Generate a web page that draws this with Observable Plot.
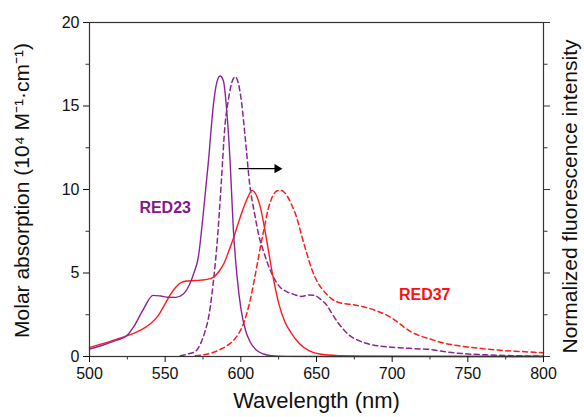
<!DOCTYPE html>
<html><head><meta charset="utf-8">
<script src="https://cdn.jsdelivr.net/npm/d3@7"></script>
<script src="https://cdn.jsdelivr.net/npm/@observablehq/plot@0.6"></script>
<style>body{margin:0;background:#fff}</style>
</head><body><div id="chart"></div>
<script>
// RED23 absorption (purple solid)
const red23AbsNm  = [500, 510, 518, 524, 530, 536, 542, 547, 552, 557, 562, 566, 569, 572, 575, 578.6, 581.9, 584.1, 586.3, 588.5, 590.7, 592.9, 595, 597.5, 600, 603, 606, 610, 615, 620, 630, 700, 800];
const red23AbsVal = [0.45, 0.72, 0.98, 1.2, 1.9, 2.9, 3.66, 3.62, 3.55, 3.54, 3.74, 4.3, 5.0, 6.0, 8.4, 11.7, 15.1, 16.4, 16.8, 16.5, 14.7, 11.7, 7.7, 4.8, 2.9, 1.6, 0.9, 0.4, 0.15, 0.05, 0.01, 0, 0];
// RED37 absorption (red solid)
const red37AbsNm  = [500, 510, 520, 525, 532, 540, 545, 549, 553, 557, 560, 564, 570, 577, 582, 586, 589, 592, 595, 598, 602, 605, 607.3, 610, 613, 617, 621, 625, 629, 633, 639, 645, 652, 665, 680, 800];
const red37AbsVal = [0.55, 0.8, 1.1, 1.25, 1.5, 1.95, 2.4, 3.0, 3.65, 4.15, 4.4, 4.52, 4.55, 4.6, 4.75, 5.15, 5.6, 6.3, 7.05, 7.9, 8.95, 9.6, 9.95, 9.7, 8.9, 7.0, 4.9, 3.2, 2.1, 1.45, 0.75, 0.35, 0.15, 0.05, 0.02, 0];
// RED23 emission (purple dashed), normalized
const red23EmNm  = [560, 565, 570, 573, 576, 579, 582, 584.5, 587, 589.5, 592, 594, 596.3, 598.5, 600.5, 603, 606, 609, 612, 615, 618, 621, 626, 630, 635, 640, 645, 649, 653, 657, 660, 664, 668, 672, 678, 684, 692, 702, 715, 725, 738, 750, 762, 780, 800];
const red23EmVal = [0.05, 0.15, 0.3, 0.7, 1.4, 2.5, 4.6, 7.0, 10.3, 13.8, 15.5, 16.4, 16.75, 16.3, 15.2, 13.0, 10.2, 8.6, 7.2, 6.3, 5.5, 4.85, 4.15, 3.9, 3.72, 3.6, 3.68, 3.65, 3.4, 3.05, 2.6, 2.05, 1.6, 1.25, 0.95, 0.76, 0.62, 0.54, 0.47, 0.42, 0.25, 0.15, 0.1, 0.05, 0.02];
// RED37 emission (red dashed), normalized
const red37EmNm  = [570, 575, 582, 587, 591, 595, 598, 601, 604, 606.5, 608.5, 611, 613, 615.5, 618, 621, 624, 626, 628.5, 631, 634, 637, 640, 643.5, 647, 651, 655, 660, 666, 673, 680, 686, 692, 697, 703, 708, 712, 718, 725, 732, 740, 750, 760, 772, 785, 800];
const red37EmVal = [0.04, 0.1, 0.25, 0.45, 0.65, 0.95, 1.3, 1.8, 2.6, 3.5, 4.4, 5.6, 6.6, 7.7, 8.8, 9.6, 9.92, 9.95, 9.85, 9.55, 9.0, 8.3, 7.3, 6.2, 5.2, 4.4, 3.9, 3.45, 3.2, 3.12, 3.0, 2.85, 2.65, 2.45, 2.1, 1.75, 1.5, 1.25, 1.05, 0.85, 0.7, 0.57, 0.47, 0.37, 0.3, 0.22];

const xMajor = [500, 550, 600, 650, 700, 750, 800];
const xMinor = [525, 575, 625, 675, 725, 775];
const yMajor = [0, 5, 10, 15, 20];
const yMinor = [2.5, 7.5, 12.5, 17.5];

const arrowLine = [{x1: 598.5, x2: 624, y: 11.25}];
const arrowHead = [{x: 624, y: 11.25}];
const seriesLabels = [
  {text: "RED23", x: 550, y: 8.9, color: "#86178c"},
  {text: "RED37", x: 721.5, y: 3.68, color: "#ff1010"}
];

const xTitle = "Wavelength (nm)";
const yTitle = "Molar absorption (10\u2074 M\u207B\u00B9\u00B7cm\u207B\u00B9)";
const y2Title = "Normalized fluorescence intensity";

const purple = "#8b2596";
const red = "#ff1a1a";

const rows = (nm, vals) => nm.map((x, i) => ({nm: x, v: vals[i]}));

const chart = Plot.plot({
  width: 584, height: 417,
  marginTop: 22, marginBottom: 61, marginLeft: 89, marginRight: 41,
  style: {fontFamily: "'Liberation Sans', Arial, sans-serif", fontSize: "16px", background: "#fff", color: "#111", overflow: "visible"},
  x: {domain: [500, 800]},
  y: {domain: [0, 20]},
  marks: [
    Plot.line(rows(red23EmNm, red23EmVal), {x: "nm", y: "v", stroke: purple, strokeWidth: 1.5, strokeDasharray: "5,3.5", curve: "monotone-x"}),
    Plot.line(rows(red37EmNm, red37EmVal), {x: "nm", y: "v", stroke: red, strokeWidth: 1.5, strokeDasharray: "5,3.5", curve: "monotone-x"}),
    Plot.line(rows(red37AbsNm, red37AbsVal), {x: "nm", y: "v", stroke: red, strokeWidth: 1.4, curve: "monotone-x"}),
    Plot.line(rows(red23AbsNm, red23AbsVal), {x: "nm", y: "v", stroke: purple, strokeWidth: 1.4, curve: "monotone-x"}),
    Plot.link(arrowLine, {x1: "x1", x2: "x2", y1: "y", y2: "y", stroke: "#000", strokeWidth: 1.4}),
    Plot.dot(arrowHead, {x: "x", y: "y", symbol: "triangle", r: 3.4, fill: "#000", stroke: null, rotate: 90}),
    Plot.text(seriesLabels, {x: "x", y: "y", text: "text", fill: "color", fontWeight: "bold", fontSize: 16}),
    Plot.frame({stroke: "#333", strokeWidth: 1.2}),
    Plot.axisX({ticks: xMajor, tickSize: 6, tickPadding: 5, label: null, color: "#111", fontSize: 16}),
    Plot.axisX({ticks: xMinor, tickSize: 3.5, tickFormat: () => "", label: null, color: "#333"}),
    Plot.axisY({ticks: yMajor, tickSize: 6, tickPadding: 4, label: null, color: "#111", fontSize: 16}),
    Plot.axisY({ticks: yMinor, tickSize: 3.5, tickFormat: () => "", label: null, color: "#333"}),
    Plot.axisY({anchor: "right", ticks: yMajor, tickSize: 6, tickFormat: () => "", label: null, color: "#333"}),
    Plot.axisY({anchor: "right", ticks: yMinor, tickSize: 3.5, tickFormat: () => "", label: null, color: "#333"}),
    Plot.text([xTitle], {text: d => d, frameAnchor: "bottom", dy: 51, fontSize: 22, fill: "#111"}),
    Plot.text([yTitle], {text: d => d, frameAnchor: "left", textAnchor: "middle", lineAnchor: "middle", dx: -67, dy: 1, rotate: -90, fontSize: 21, fill: "#111"}),
    Plot.text([y2Title], {text: d => d, frameAnchor: "right", textAnchor: "middle", lineAnchor: "middle", dx: 27, dy: 7, rotate: -90, fontSize: 21, fill: "#111"})
  ]
});
document.getElementById("chart").appendChild(chart);
</script>
</body></html>
